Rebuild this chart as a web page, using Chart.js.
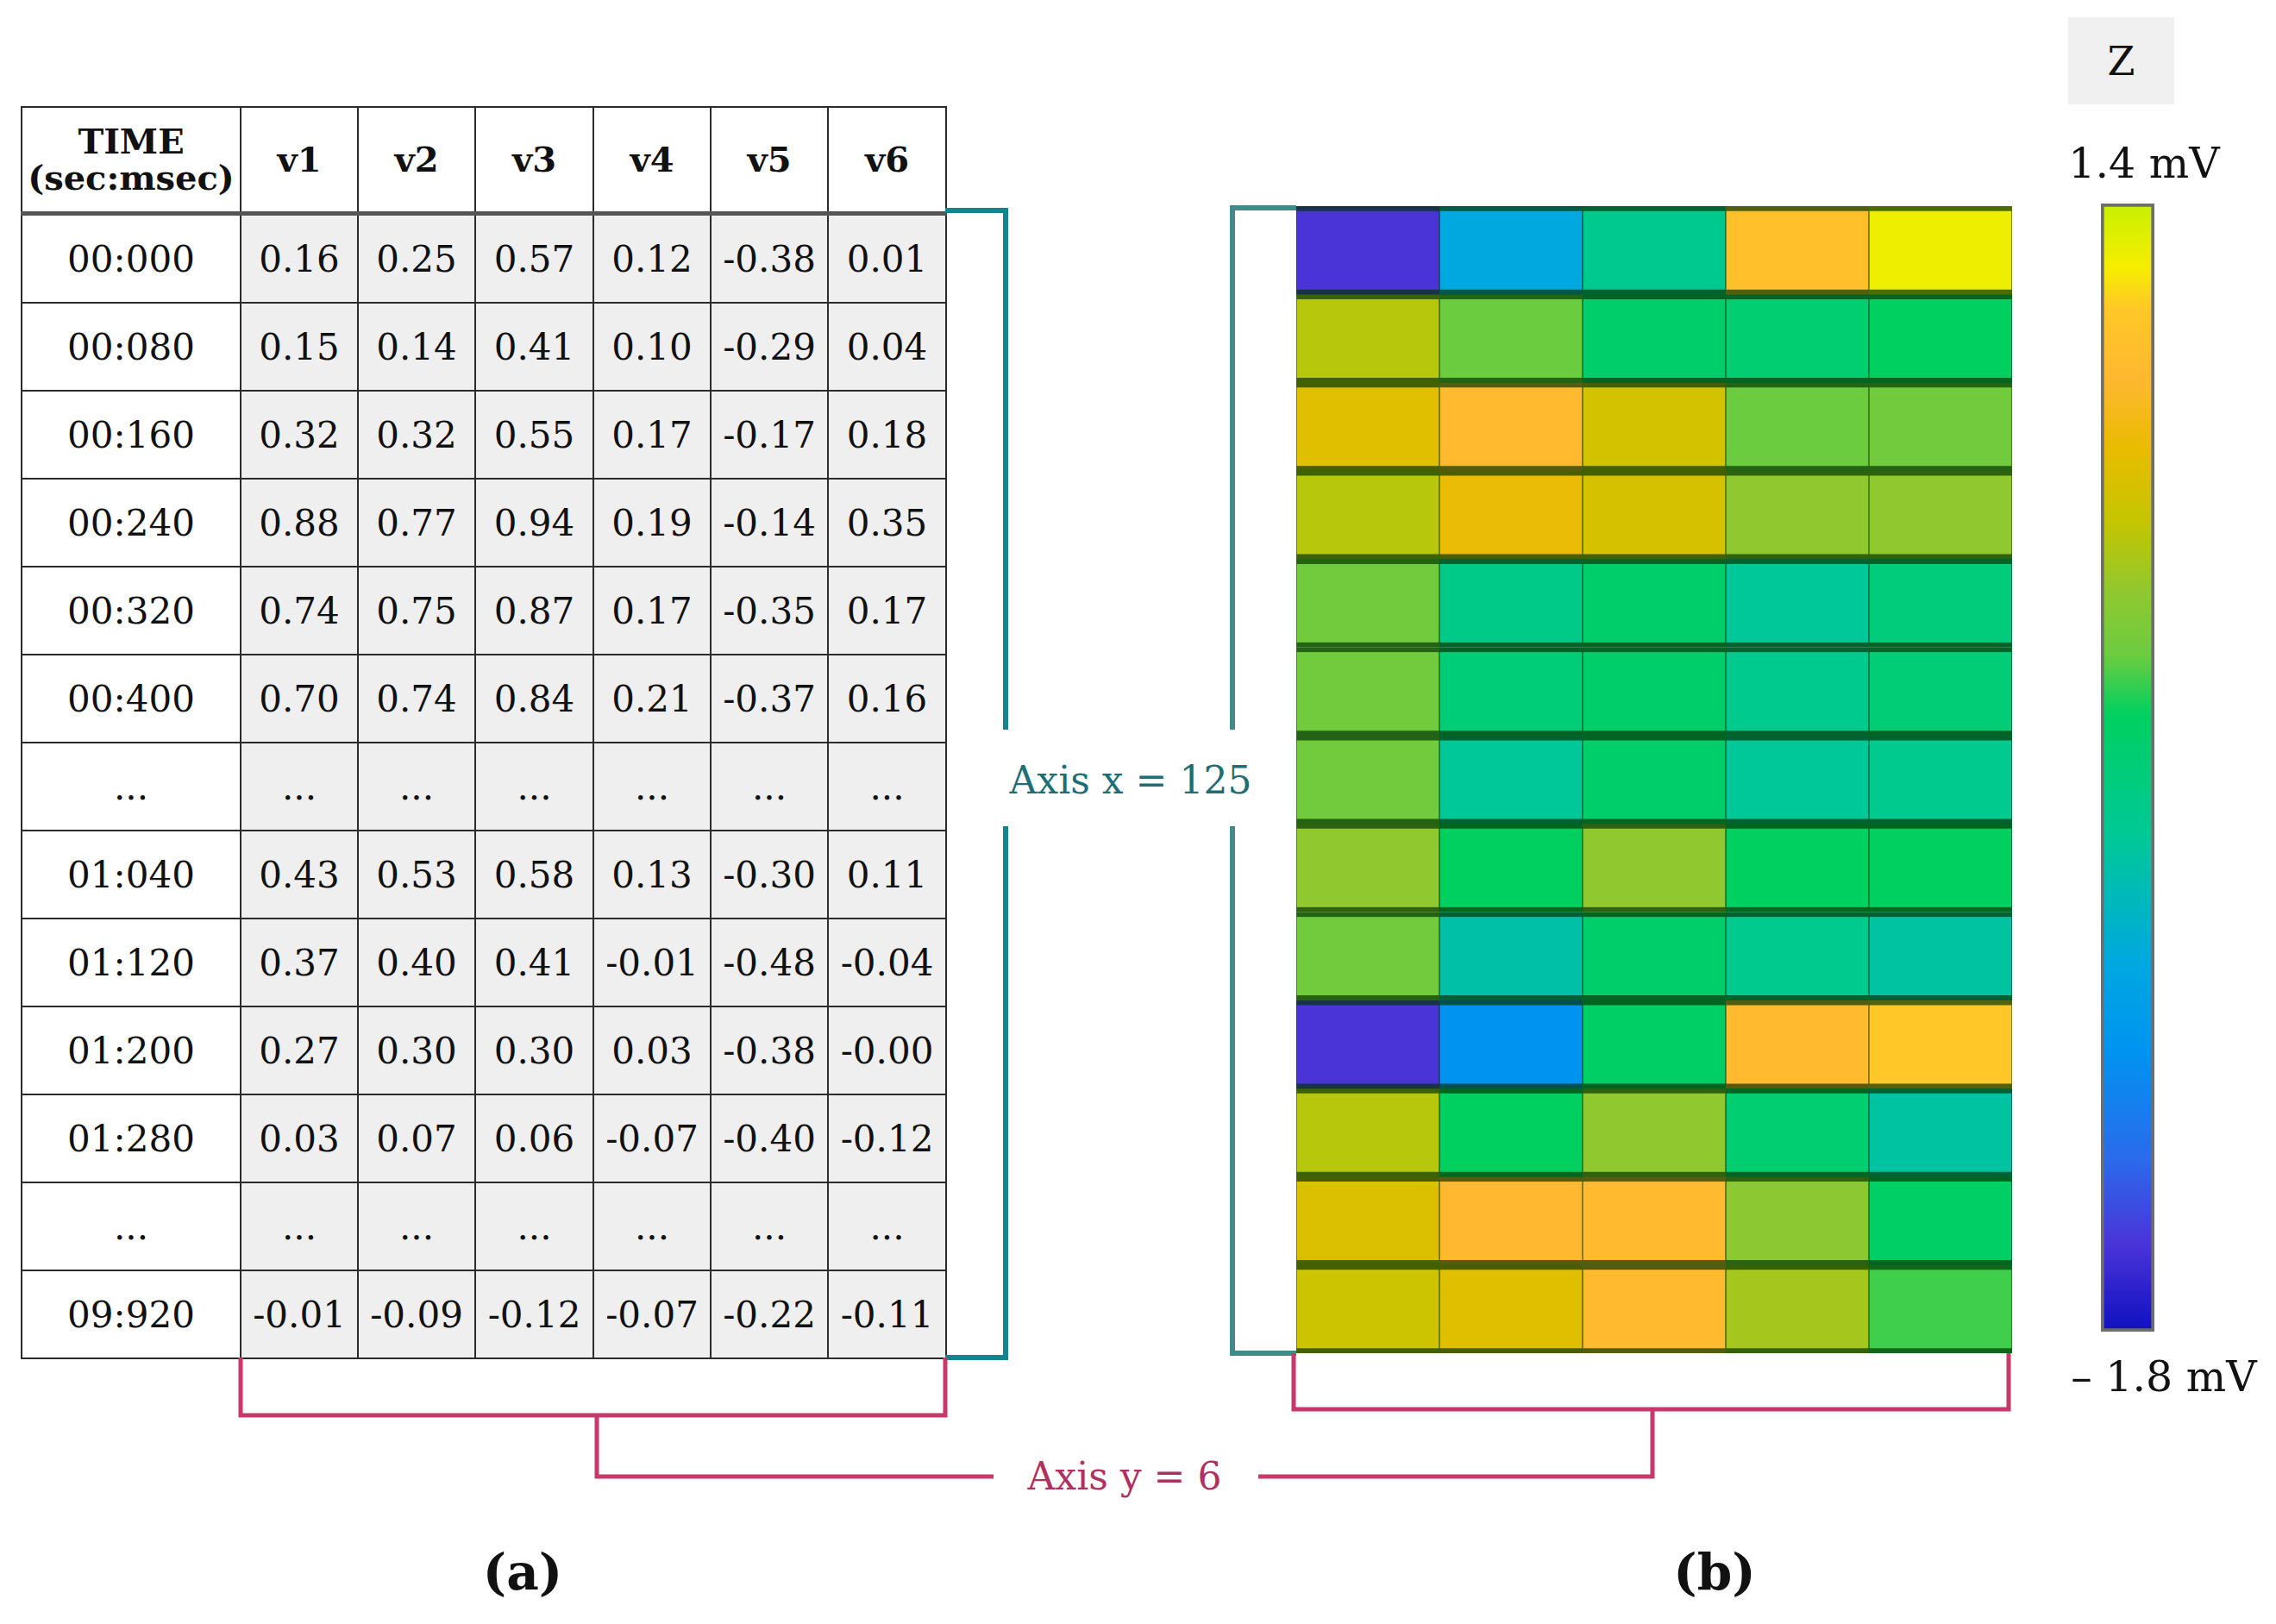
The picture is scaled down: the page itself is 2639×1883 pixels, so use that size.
<!DOCTYPE html>
<html>
<head>
<meta charset="utf-8">
<script src="https://cdn.jsdelivr.net/npm/chart.js@4.4.1/dist/chart.umd.min.js"></script>
<style>
  html, body { margin: 0; padding: 0; background: #fff; }
  body { width: 2639px; height: 1883px; position: relative; overflow: hidden; font-family: 'DejaVu Serif', serif; color: #111; }
  #tbl { position: absolute; left: 24px; top: 123px; border-collapse: collapse; table-layout: fixed; width: 1072px; font-size: 42px; }
  #tbl th, #tbl td { border: 2px solid #2b2b2b; text-align: center; vertical-align: middle; padding: 0; }
  #tbl th { height: 120px; font-weight: bold; font-size: 40px; line-height: 1.05; background: #fff; border-bottom: 5px solid #555; }
  #tbl td { height: 100px; }
  #tbl td.val { background: #efefef; }
  #tbl td.time { background: #fff; }
  .lbl { position: absolute; transform: translate(-50%, -50%); line-height: 1; white-space: nowrap; }
  #zbox { position: absolute; left: 2398px; top: 20px; width: 123px; height: 101px; background: #f0f0f0;
          display: flex; align-items: center; justify-content: center; font-size: 46px; }
  canvas { position: absolute; }
  #lines { position: absolute; left: 0; top: 0; }
</style>
</head>
<body>

<table id="tbl"></table>

<svg id="lines" width="2639" height="1883">
  <g fill="none" stroke-width="6">
    <path d="M1096 244 H1166 V846 M1166 958 V1574 H1096" stroke="#12848e"/>
    <path d="M1503 241 H1429 V846 M1429 958 V1569 H1503" stroke="#3c8c8c"/>
  </g>
  <g fill="none" stroke="#c8386a" stroke-width="5">
    <path d="M279 1574 V1641 H1096 V1574"/>
    <path d="M692 1641 V1712 H1152"/>
    <path d="M1459 1712 H1916 V1634"/>
    <path d="M1500 1569 V1634 H2329 V1569"/>
  </g>
</svg>

<canvas id="heat" width="830" height="1330" style="left:1503px; top:239px;"></canvas>
<canvas id="cbar" width="62" height="1308" style="left:2436px; top:236px;"></canvas>

<div id="zbox">Z</div>
<div class="lbl" style="left:2486px; top:189px; font-size:49px;">1.4 mV</div>
<div class="lbl" style="left:2509px; top:1596px; font-size:49px;">&ndash; 1.8 mV</div>
<div class="lbl" style="left:1311px; top:905px; font-size:44px; color:#1f6e76;">Axis x = 125</div>
<div class="lbl" style="left:1304px; top:1712px; font-size:44px; color:#b03060;">Axis y = 6</div>
<div class="lbl" style="left:606px; top:1823px; font-size:58px; font-weight:bold;">(a)</div>
<div class="lbl" style="left:1988px; top:1823px; font-size:58px; font-weight:bold;">(b)</div>

<script>
// ---- table (a) ----
var headers = ['TIME<br>(sec:msec)', 'v1', 'v2', 'v3', 'v4', 'v5', 'v6'];
var times = ['00:000', '00:080', '00:160', '00:240', '00:320', '00:400', '...', '01:040', '01:120', '01:200', '01:280', '...', '09:920'];
var v1 = ['0.16', '0.15', '0.32', '0.88', '0.74', '0.70', '...', '0.43', '0.37', '0.27', '0.03', '...', '-0.01'];
var v2 = ['0.25', '0.14', '0.32', '0.77', '0.75', '0.74', '...', '0.53', '0.40', '0.30', '0.07', '...', '-0.09'];
var v3 = ['0.57', '0.41', '0.55', '0.94', '0.87', '0.84', '...', '0.58', '0.41', '0.30', '0.06', '...', '-0.12'];
var v4 = ['0.12', '0.10', '0.17', '0.19', '0.17', '0.21', '...', '0.13', '-0.01', '0.03', '-0.07', '...', '-0.07'];
var v5 = ['-0.38', '-0.29', '-0.17', '-0.14', '-0.35', '-0.37', '...', '-0.30', '-0.48', '-0.38', '-0.40', '...', '-0.22'];
var v6 = ['0.01', '0.04', '0.18', '0.35', '0.17', '0.16', '...', '0.11', '-0.04', '-0.00', '-0.12', '...', '-0.11'];

// ---- heatmap (b), z in mV, one array per column, top row first ----
var heatCols = ['1', '2', '3', '4', '5'];
var zCol1 = [-1.55, 0.45, 0.65, 0.45, 0.15, 0.15, 0.15, 0.30, 0.15, -1.55, 0.45, 0.62, 0.55];
var zCol2 = [-0.75, 0.12, 0.92, 0.72, -0.30, -0.20, -0.40, -0.05, -0.48, -1.00, -0.05, 0.90, 0.65];
var zCol3 = [-0.35, -0.12, 0.58, 0.60, -0.12, -0.12, -0.12, 0.30, -0.12, -0.08, 0.30, 0.92, 0.92];
var zCol4 = [1.00, -0.15, 0.12, 0.30, -0.40, -0.33, -0.40, -0.05, -0.33, 0.92, -0.15, 0.28, 0.38];
var zCol5 = [1.25, -0.05, 0.15, 0.30, -0.22, -0.18, -0.33, -0.05, -0.45, 1.10, -0.45, -0.08, 0.05];

// colour scale
var zMin = -1.8, zMax = 1.4;
var cmapValues = [1.4, 1.22, 1.1, 0.9, 0.7, 0.5, 0.3, 0.12, -0.05, -0.4, -0.75, -1.0, -1.3, -1.55, -1.8];
var cmapColors = ['#c8f000', '#f6ee00', '#ffc828', '#ffb830', '#e8bc00', '#c4c600', '#90c830', '#6ccc40',
                  '#00d060', '#00c898', '#00a8e0', '#0094f0', '#2a6cec', '#4a34d8', '#1010c0'];

function hexRgb(h) {
  return [parseInt(h.substr(1, 2), 16), parseInt(h.substr(3, 2), 16), parseInt(h.substr(5, 2), 16)];
}
function rgbStr(c) { return 'rgb(' + c.map(Math.round).join(',') + ')'; }

function zRgb(z) {
  for (var i = 0; i < cmapValues.length - 1; i++) {
    var a = cmapValues[i], b = cmapValues[i + 1];
    if (z <= a && z >= b) {
      var t = (a - z) / (a - b);
      var ca = hexRgb(cmapColors[i]), cb = hexRgb(cmapColors[i + 1]);
      return [0, 1, 2].map(function(k) { return ca[k] + (cb[k] - ca[k]) * t; });
    }
  }
  return hexRgb(z > 0 ? cmapColors[0] : cmapColors[cmapColors.length - 1]);
}
function zColor(z) { return rgbStr(zRgb(z)); }
// the dark strip between rows
function zBand(z) {
  var c = zRgb(z), d = [0, 50, 0];
  return rgbStr(c.map(function(v, k) { return v * 0.32 + d[k] * 0.68; }));
}

// build the table
var tbl = document.getElementById('tbl');
var widths = [254, 136, 136, 137, 136, 136, 137];
var html = '<colgroup>' + widths.map(function(w) { return '<col style="width:' + w + 'px">'; }).join('') + '</colgroup>';
html += '<tr>' + headers.map(function(h) { return '<th>' + h + '</th>'; }).join('') + '</tr>';
var cols = [v1, v2, v3, v4, v5, v6];
times.forEach(function(t, i) {
  html += '<tr><td class="time">' + t + '</td>';
  cols.forEach(function(c) { html += '<td class="val">' + c[i] + '</td>'; });
  html += '</tr>';
});
tbl.innerHTML = html;

// heatmap as stacked bars, one dataset per row
var zCols = [zCol1, zCol2, zCol3, zCol4, zCol5];
var rowDatasets = zCol1.map(function(_, r) {
  return {
    data: heatCols.map(function() { return 1; }),
    backgroundColor: zCols.map(function(c) { return zColor(c[r]); }),
    borderColor: zCols.map(function(c) { return zBand(c[r]); }),
    borderWidth: { top: 6, bottom: 6, left: 1, right: 1 },
    borderSkipped: false,
    barPercentage: 1,
    categoryPercentage: 1,
    stack: 'rows'
  };
});

new Chart(document.getElementById('heat'), {
  type: 'bar',
  data: { labels: heatCols, datasets: rowDatasets },
  options: {
    responsive: false,
    animation: false,
    layout: { padding: 0 },
    plugins: { legend: { display: false }, tooltip: { enabled: false } },
    scales: {
      x: { display: false, stacked: true },
      y: { display: false, stacked: true, min: 0, max: zCol1.length, reverse: true }
    }
  }
});

// colour bar
new Chart(document.getElementById('cbar'), {
  type: 'bar',
  data: {
    labels: ['z'],
    datasets: [{
      data: [[zMin, zMax]],
      backgroundColor: function(c) {
        var chart = c.chart;
        if (!chart.chartArea) return '#888';
        var y = chart.scales.y;
        var g = chart.ctx.createLinearGradient(0, y.getPixelForValue(zMax), 0, y.getPixelForValue(zMin));
        cmapValues.forEach(function(v, i) {
          g.addColorStop((zMax - v) / (zMax - zMin), cmapColors[i]);
        });
        return g;
      },
      borderColor: '#6e6e6e',
      borderWidth: 4,
      borderSkipped: false,
      barPercentage: 1,
      categoryPercentage: 1
    }]
  },
  options: {
    responsive: false,
    animation: false,
    layout: { padding: 0 },
    plugins: { legend: { display: false }, tooltip: { enabled: false } },
    scales: {
      x: { display: false },
      y: { display: false, min: zMin, max: zMax }
    }
  }
});
</script>
</body>
</html>
